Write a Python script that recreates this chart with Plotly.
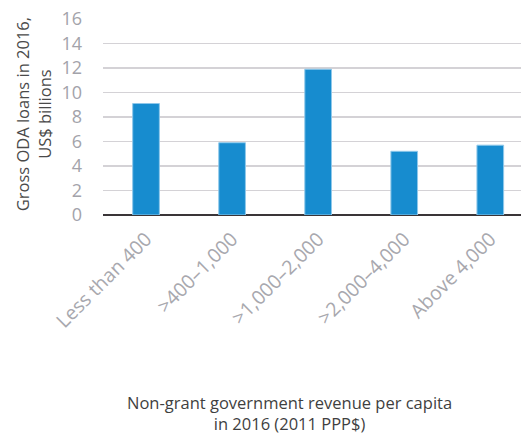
import plotly.graph_objects as go

categories = ["Less than 400", ">400–1,000", ">1,000–2,000", ">2,000–4,000", "Above 4,000"]
values = [9.1, 5.9, 11.9, 5.2, 5.7]
y_ticks = [0, 2, 4, 6, 8, 10, 12, 14, 16]

FONT = "Open Sans"

fig = go.Figure(go.Bar(
    x=list(range(len(categories))),
    y=values,
    width=0.31,
    marker=dict(color="#178ccf", line=dict(color="#8fc8ea", width=1)),
    hoverinfo="skip",
))

fig.update_layout(
    template="none",
    width=521, height=434,
    margin=dict(l=103, r=0, t=19, b=219, pad=0),
    paper_bgcolor="white", plot_bgcolor="white",
    showlegend=False,
    font=dict(family=FONT),
    xaxis=dict(
        automargin=False,
        range=[-0.5, 4.357],
        tickmode="array",
        tickvals=list(range(len(categories))),
        ticktext=categories,
        tickangle=-45,
        tickfont=dict(size=19.5, color="#a8a8ae", family=FONT),
        showgrid=False, zeroline=False,
        showline=False, ticks="",
        ticklabelstandoff=8,
        ticklabeloverflow="allow",
    ),
    yaxis=dict(
        automargin=False,
        range=[0, 16],
        tickmode="array",
        tickvals=y_ticks,
        ticktext=[str(v) for v in y_ticks],
        tickfont=dict(size=18, color="#a3a3aa", family=FONT),
        showgrid=True, gridcolor="#d4d2d6", gridwidth=1.3,
        zeroline=True, zerolinecolor="#3a3538", zerolinewidth=1.5,
        showline=False, ticks="",
        ticklabelstandoff=20,
        ticklabeloverflow="allow",
    ),
    annotations=[
        dict(
            text="Gross ODA loans in 2016,<br>US$ billions",
            xref="paper", yref="paper", x=-0.167, y=0.515,
            xanchor="center", yanchor="middle", showarrow=False,
            textangle=-90,
            font=dict(size=16.5, color="#4a4a4a", family=FONT),
        ),
        dict(
            text="Non-grant government revenue per capita<br>in 2016 (2011 PPP$)",
            xref="paper", yref="paper", x=0.445, y=-1.01,
            xanchor="center", yanchor="middle", showarrow=False,
            font=dict(size=16.5, color="#3f3f3f", family=FONT),
        ),
    ],
)

fig.write_html(
    "out.html",
    config={"displayModeBar": False, "staticPlot": True},
    post_script="document.body.style.margin='0';document.body.style.padding='0';",
)
